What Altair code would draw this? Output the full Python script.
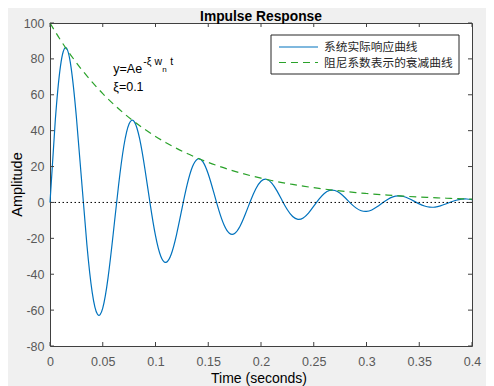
import altair as alt
import pandas as pd

# ---- data ----
resp_step = 0.005
resp_values = [
    0.00, 45.62, 76.28, 86.24, 75.16, 47.63, 11.91, -23.68, -50.09, -62.32,
    -58.87, -42.03, -17.00, 9.61, 31.45, 43.88, 44.91, 35.37, 18.50, -1.07,
    -18.54, -30.02, -33.41, -28.70, -17.75, -3.70, 9.87, 19.85, 24.25, 22.59,
    15.82, 6.01, -4.27, -12.57, -17.16, -17.31, -13.41, -6.76, 0.83, 7.51,
    11.80, 12.94, 10.95, 6.60, 1.13, -4.09, -7.85, -9.43, -8.66, -5.95,
    -2.10, 1.86, 5.02, 6.70, 6.67, 5.08, 2.46, -0.48, -3.03, -4.63,
    -5.00, -4.17, -2.45, -0.32, 1.68, 3.10, 3.66, 3.32, 2.23, 0.73,
    -0.80, -2.00, -2.62, -2.57, -1.92, -0.89, 0.25, 1.22, 1.82, 1.93,
    1.59,
]
env_step = 0.01
env_values = [
    100.0, 90.48, 81.87, 74.08, 67.03, 60.65, 54.88, 49.66, 44.93, 40.66,
    36.79, 33.29, 30.12, 27.25, 24.66, 22.31, 20.19, 18.27, 16.53, 14.96,
    13.53, 12.25, 11.08, 10.03, 9.07, 8.21, 7.43, 6.72, 6.08, 5.50,
    4.98, 4.50, 4.08, 3.69, 3.34, 3.02, 2.73, 2.47, 2.24, 2.02,
    1.83,
]
x_ticks = [0, 0.05, 0.1, 0.15, 0.2, 0.25, 0.3, 0.35, 0.4]
y_ticks = [-80, -60, -40, -20, 0, 20, 40, 60, 80, 100]
x_domain = [0, 0.4]
y_domain = [-80, 100]
legend_labels = ["系统实际响应曲线", "阻尼系数表示的衰减曲线"]
title_text = "Impulse Response"
x_title = "Time (seconds)"
y_title = "Amplitude"
annot_main = ["y=Ae", "-ξ w", "n", "t"]
annot_xi = "ξ=0.1"
annot_pos_t = [0.06]
annot_pos_y = [72, 62]

# ---- styling ----
W, H = 422, 323
BLUE = "#0072BD"
GREEN = "#2aa22a"
AXC = "#404040"
LBL = "#595959"
FONT = "Liberation Sans"
CJK = "Noto Sans CJK SC"

resp_df = pd.DataFrame({"t": [i * resp_step for i in range(len(resp_values))], "y": resp_values})
env_df = pd.DataFrame({"t": [i * env_step for i in range(len(env_values))], "y": env_values})
xt_df = pd.DataFrame({"t": x_ticks})
yt_df = pd.DataFrame({"y": y_ticks})
zero_df = pd.DataFrame({"y": [0]})
one_df = pd.DataFrame({"k": [0]})
ann1_df = pd.DataFrame({"t": annot_pos_t, "y": [annot_pos_y[0]]})
ann2_df = pd.DataFrame({"t": annot_pos_t, "y": [annot_pos_y[1]]})

xs = alt.Scale(domain=x_domain, nice=False, zero=False)
ys = alt.Scale(domain=y_domain, nice=False, zero=False)

x_axis = alt.Axis(values=x_ticks, labelExpr="'' + datum.value", grid=False, domain=False,
                  ticks=False, tickSize=0, labelPadding=9, title=None, labelFontSize=12.5,
                  labelColor=LBL, labelFont=FONT, labelFlush=False, labelOverlap=False)
y_axis = alt.Axis(values=y_ticks, labelExpr="'' + datum.value", grid=False, domain=False,
                  ticks=False, tickSize=0, labelPadding=6, title=None, labelFontSize=12.5,
                  labelColor=LBL, labelFont=FONT, labelFlush=False, labelOverlap=False)


def X():
    return alt.X("t:Q", scale=xs, axis=x_axis)


def Y():
    return alt.Y("y:Q", scale=ys, axis=y_axis)


resp = alt.Chart(resp_df).mark_line(color=BLUE, strokeWidth=1.2, interpolate="natural").encode(x=X(), y=Y())
env = alt.Chart(env_df).mark_line(color=GREEN, strokeWidth=1.2, strokeDash=[7, 5],
                                  interpolate="natural").encode(x=X(), y=Y())
zero = alt.Chart(zero_df).mark_rule(color="black", strokeWidth=1, strokeDash=[1.5, 2.5]).encode(y=Y())

tick_b = alt.Chart(xt_df).mark_rule(color=AXC, strokeWidth=1).encode(x=X(), y=alt.value(H), y2=alt.value(H - 4))
tick_t = alt.Chart(xt_df).mark_rule(color=AXC, strokeWidth=1).encode(x=X(), y=alt.value(0), y2=alt.value(4))
tick_l = alt.Chart(yt_df).mark_rule(color=AXC, strokeWidth=1).encode(y=Y(), x=alt.value(0), x2=alt.value(4))
tick_r = alt.Chart(yt_df).mark_rule(color=AXC, strokeWidth=1).encode(y=Y(), x=alt.value(W), x2=alt.value(W - 4))

# legend (drawn)
leg_box = alt.Chart(one_df).mark_rect(fill="white", stroke="#262626", strokeWidth=1).encode(
    x=alt.value(221), x2=alt.value(409), y=alt.value(12), y2=alt.value(51))
leg_l1 = alt.Chart(one_df).mark_rule(color=BLUE, strokeWidth=1.2).encode(
    x=alt.value(229), x2=alt.value(268), y=alt.value(24))
leg_l2 = alt.Chart(one_df).mark_rule(color=GREEN, strokeWidth=1.2, strokeDash=[7, 5]).encode(
    x=alt.value(229), x2=alt.value(268), y=alt.value(39.5))
leg_t1 = alt.Chart(one_df).mark_text(text=legend_labels[0], align="left", baseline="middle", font=CJK,
                                     fontSize=11.7, color="#262626").encode(x=alt.value(274), y=alt.value(24))
leg_t2 = alt.Chart(one_df).mark_text(text=legend_labels[1], align="left", baseline="middle", font=CJK,
                                     fontSize=11.7, color="#262626").encode(x=alt.value(274), y=alt.value(39.5))

# annotations
a_base = alt.Chart(ann1_df).mark_text(text=annot_main[0], align="left", baseline="alphabetic", font=FONT,
                                      fontSize=12.5, color="black").encode(x=X(), y=Y())
a_sup = alt.Chart(ann1_df).mark_text(text=annot_main[1], align="left", baseline="alphabetic", font=FONT,
                                     fontSize=10.5, color="black", dx=30, dy=-8).encode(x=X(), y=Y())
a_sub = alt.Chart(ann1_df).mark_text(text=annot_main[2], align="left", baseline="alphabetic", font=FONT,
                                     fontSize=8, color="black", dx=49, dy=-1).encode(x=X(), y=Y())
a_t = alt.Chart(ann1_df).mark_text(text=annot_main[3], align="left", baseline="alphabetic", font=FONT,
                                   fontSize=10.5, color="black", dx=57, dy=-8).encode(x=X(), y=Y())
a_xi = alt.Chart(ann2_df).mark_text(text=annot_xi, align="left", baseline="alphabetic", font=FONT,
                                    fontSize=12.5, color="black").encode(x=X(), y=Y())

# titles
title = alt.Chart(one_df).mark_text(text=title_text, align="center", baseline="alphabetic", font=FONT,
                                    fontSize=13.8, fontWeight="bold", color="black").encode(
    x=alt.value(W / 2), y=alt.value(-2.3))
xlab = alt.Chart(one_df).mark_text(text=x_title, align="center", baseline="alphabetic", font=FONT,
                                   fontSize=14, color="black").encode(x=alt.value(209), y=alt.value(H + 37))
ylab = alt.Chart(one_df).mark_text(text=y_title, align="center", baseline="alphabetic", font=FONT,
                                   fontSize=14.5, color="black", angle=270).encode(x=alt.value(-28), y=alt.value(161.5))

chart = alt.layer(
    resp, env, zero, tick_b, tick_t, tick_l, tick_r,
    leg_box, leg_l1, leg_l2, leg_t1, leg_t2,
    a_base, a_sup, a_sub, a_t, a_xi, title, xlab, ylab,
).properties(
    width=W, height=H,
    autosize=alt.AutoSizeParams(type="none"),
    padding={"left": 42, "top": 15, "right": 14, "bottom": 40},
    background="#f0f0f0",
).configure_view(fill="white", stroke=AXC, strokeWidth=1)

chart.save("out.html", embed_options={"renderer": "svg", "actions": False})
